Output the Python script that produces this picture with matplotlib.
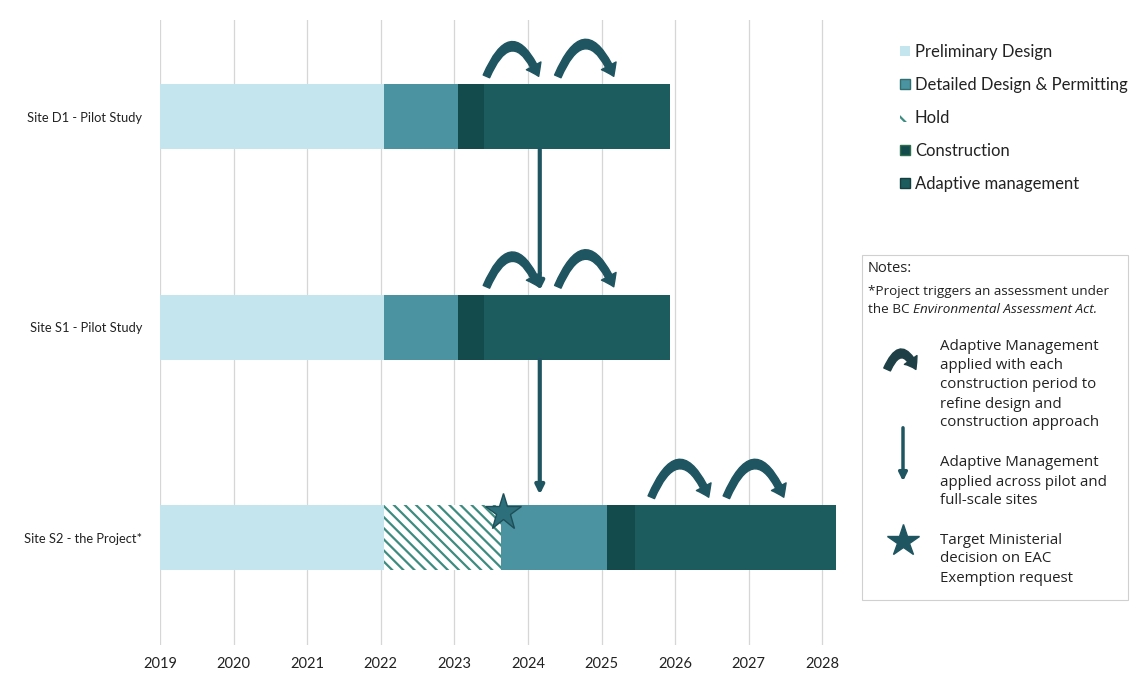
import matplotlib
matplotlib.use("Agg")
import matplotlib.pyplot as plt
from matplotlib.patches import Patch, FancyArrowPatch, Rectangle
from matplotlib.lines import Line2D

# ---- schedule data (decimal years) ----
sites = ["Site D1 - Pilot Study", "Site S1 - Pilot Study", "Site S2 - the Project*"]
years = list(range(2019, 2029))

prelim_start = [2019.0, 2019.0, 2019.0]
prelim_end = [2022.05, 2022.05, 2022.05]
hold_start = [None, None, 2022.05]
hold_end = [None, None, 2023.63]
detail_start = [2022.05, 2022.05, 2023.63]
detail_end = [2023.05, 2023.05, 2025.07]
constr_start = [2023.05, 2023.05, 2025.07]
constr_end = [2023.40, 2023.40, 2025.45]
adapt_start = [2023.40, 2023.40, 2025.45]
adapt_end = [2025.93, 2025.93, 2028.18]

# curved adaptive-management arrows: (site index, x start, x end)
arc_site = [0, 0, 1, 1, 2, 2]
arc_x0 = [2023.42, 2024.39, 2023.42, 2024.39, 2025.66, 2026.68]
arc_x1 = [2024.16, 2025.18, 2024.16, 2025.18, 2026.47, 2027.49]

# vertical arrows between sites
vert_x = 2024.16
star_x = 2023.66

labels = ["Preliminary Design", "Detailed Design & Permitting", "Hold",
          "Construction", "Adaptive management"]

C_PRE = "#c4e5ed"
C_DET = "#4c93a2"
C_HOLD = "#3d8c80"
C_CON = "#134b4d"
C_ADA = "#1c5c5f"
C_ARR = "#1f5561"

plt.rcParams["font.family"] = ["Lato", "DejaVu Sans"]
plt.rcParams["hatch.linewidth"] = 1.6

W, H = 1133, 673
fig = plt.figure(figsize=(W / 100, H / 100), dpi=100)
ax_left, ax_right, ax_top, ax_bot = 160, 845, 20, 645
ax = fig.add_axes([ax_left / W, 1 - ax_bot / H, (ax_right - ax_left) / W, (ax_bot - ax_top) / H])

# 73.6 px per year
ax.set_xlim(2019, 2019 + (ax_right - ax_left) / 73.6)
ax.set_ylim(2.51, -0.46)

bar_h = 0.31
for i in range(len(sites)):
    ax.barh(i, prelim_end[i] - prelim_start[i], left=prelim_start[i], height=bar_h,
            color=C_PRE, zorder=2)
    if hold_start[i] is not None:
        ax.barh(i, hold_end[i] - hold_start[i], left=hold_start[i], height=bar_h,
                color="white", edgecolor=C_HOLD, hatch="\\\\\\", linewidth=0, zorder=2)
    ax.barh(i, detail_end[i] - detail_start[i], left=detail_start[i], height=bar_h,
            color=C_DET, zorder=2)
    ax.barh(i, constr_end[i] - constr_start[i], left=constr_start[i], height=bar_h,
            color=C_CON, zorder=2)
    ax.barh(i, adapt_end[i] - adapt_start[i], left=adapt_start[i], height=bar_h,
            color=C_ADA, zorder=2)

# curved arrows above bars
arc_base = -0.18
for s, x0, x1 in zip(arc_site, arc_x0, arc_x1):
    a = FancyArrowPatch((x0, s + arc_base), (x1, s + arc_base),
                        connectionstyle="arc3,rad=-1.2",
                        arrowstyle="simple,head_width=0.85,head_length=0.6,tail_width=0.36",
                        mutation_scale=14, color=C_ARR, zorder=4)
    ax.add_patch(a)

# vertical arrows linking pilot and full-scale sites
for y0, y1 in [(0 + bar_h / 2, 1 - bar_h / 2 - 0.02), (1 + bar_h / 2, 2 - bar_h / 2 - 0.05)]:
    ax.annotate("", xy=(vert_x, y1), xytext=(vert_x, y0),
                arrowprops=dict(arrowstyle="-|>,head_width=0.25,head_length=0.5",
                                color=C_ARR, lw=3, shrinkA=0, shrinkB=0), zorder=5)

# ministerial decision star
ax.plot([star_x], [2 - 0.124], marker="*", markersize=28, color="#2d6f7a",
        markeredgecolor="#1e4f58", markeredgewidth=1, zorder=6)

# axes styling
ax.set_xticks(years)
ax.set_xticklabels([str(y) for y in years], fontsize=10.5, color="#222222")
ax.set_yticks(range(len(sites)))
ax.set_yticklabels(sites, fontsize=9.3, color="#222222")
ax.tick_params(axis="both", length=0)
ax.tick_params(axis="x", pad=9)
ax.tick_params(axis="y", pad=13)
ax.grid(axis="x", color="#d6d6d6", lw=0.9, zorder=0)
ax.set_axisbelow(True)
for sp in ax.spines.values():
    sp.set_visible(False)

# legend
handles = [
    Patch(facecolor=C_PRE, edgecolor="none"),
    Patch(facecolor=C_DET, edgecolor="#2f6f70"),
    Patch(facecolor="white", edgecolor=C_HOLD, hatch="\\\\", linewidth=0),
    Patch(facecolor=C_CON, edgecolor="#2f6f50"),
    Patch(facecolor=C_ADA, edgecolor="#163e3e"),
]
fig.legend(handles, labels, loc="upper left", bbox_to_anchor=(885 / W, 1 - 29 / H),
           frameon=False, fontsize=12, handlelength=0.6, handleheight=0.6,
           handletextpad=0.3, labelspacing=1.02, labelcolor="#222222")

# notes box
box = Rectangle((862 / W, 1 - 600 / H), (1128 - 862) / W, (600 - 255) / H,
                transform=fig.transFigure, facecolor="white", edgecolor="#d0d0d0", lw=0.8)
fig.add_artist(box)

def fy(py):
    return 1 - py / H

nf = ["Open Sans", "DejaVu Sans"]
fig.text(868 / W, fy(269), "Notes:", fontsize=10.5, family=nf, va="center", color="#222222")
fig.text(868 / W, fy(292), "*Project triggers an assessment under", fontsize=9.7,
         family=nf, va="center", color="#222222")
t_bc = fig.text(868 / W, fy(310), "the BC ", fontsize=9.7, family=nf, va="center",
                color="#222222")
renderer = fig.canvas.get_renderer()
bc_w = t_bc.get_window_extent(renderer).width
fig.text((868 + bc_w) / W, fy(310), "Environmental Assessment Act.", fontsize=9.7, family=nf,
         style="italic", va="center", color="#222222")

notes = [
    (347, ["Adaptive Management", "applied with each", "construction period to",
           "refine design and", "construction approach"]),
    (463, ["Adaptive Management", "applied across pilot and", "full-scale sites"]),
    (540, ["Target Ministerial", "decision on EAC", "Exemption request"]),
]
for y0, lines in notes:
    for k, t in enumerate(lines):
        fig.text(940 / W, fy(y0 + k * 19), t, fontsize=10.8, family=nf, va="center",
                 color="#222222")

# note icons
arc_icon = FancyArrowPatch((886 / W, fy(372)), (917 / W, fy(372)), transform=fig.transFigure,
                           connectionstyle="arc3,rad=-1.2",
                           arrowstyle="simple,head_width=0.85,head_length=0.6,tail_width=0.4",
                           mutation_scale=13, color="#1e3f45")
fig.add_artist(arc_icon)
vert_icon = FancyArrowPatch((903 / W, fy(425)), (903 / W, fy(484)), transform=fig.transFigure,
                            arrowstyle="-|>,head_width=0.2,head_length=0.4",
                            mutation_scale=12, color="#1f5561", lw=2.5)
fig.add_artist(vert_icon)
fig.add_artist(Line2D([903 / W], [fy(541)], marker="*", markersize=24, color="#1f5561",
                      transform=fig.transFigure))

fig.savefig("out.png", dpi=100, facecolor="white")
